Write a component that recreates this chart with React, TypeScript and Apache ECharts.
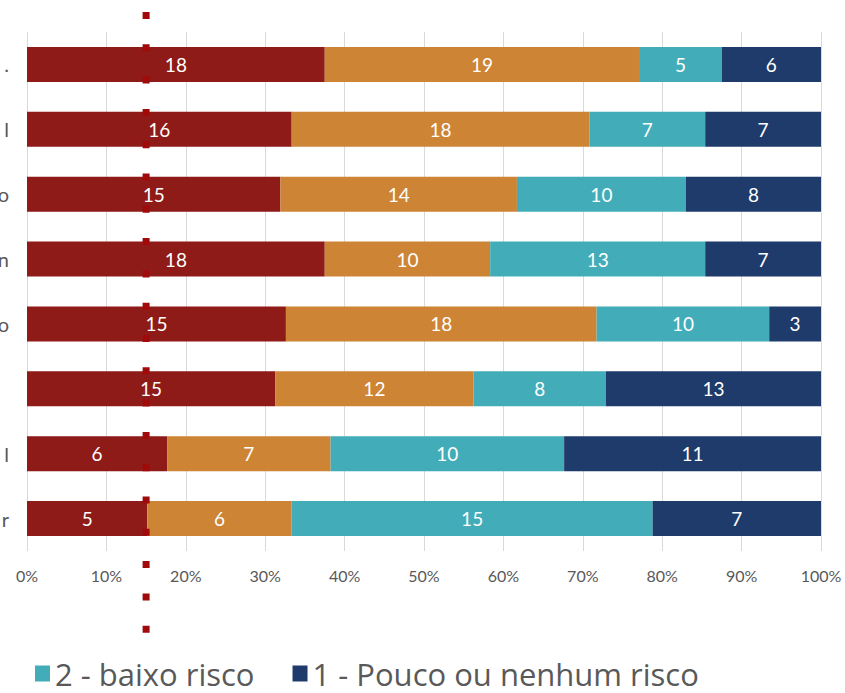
import React, { useEffect, useRef } from "react";
import * as echarts from "echarts";

const categories = [".", "l", "o", "n", "o", "", "l", "r"];
const seriesNames = ["4", "3", "2 - baixo risco", "1 - Pouco ou nenhum risco"];
const risk4 = [18, 16, 15, 18, 15, 15, 6, 5];
const risk3 = [19, 18, 14, 10, 18, 12, 7, 6];
const risk2 = [5, 7, 10, 13, 10, 8, 10, 15];
const risk1 = [6, 7, 8, 7, 3, 13, 11, 7];
const colors = ["#8e1b17", "#cd8434", "#42adb9", "#1e3b6c"];
const referenceValue = 15;
const FONT = "Lato";

export default function App() {
  const ref = useRef<HTMLDivElement>(null);
  useEffect(() => {
    if (!ref.current) return;
    const chart = echarts.init(ref.current, undefined, { renderer: "svg" });
    const raw = [risk4, risk3, risk2, risk1];
    const totals = categories.map((_, i) => raw.reduce((s, a) => s + a[i], 0));
    chart.setOption({
      animation: false,
      textStyle: { fontFamily: FONT },
      legend: {
        data: [seriesNames[2], seriesNames[3]],
        left: 30,
        top: 653,
        itemWidth: 15,
        itemHeight: 16,
        itemGap: 38,
        icon: "rect",
        textStyle: { fontSize: 31, color: "#595959", fontFamily: "Open Sans" },
      },
      grid: { left: 27, right: 24, top: 32, bottom: 142, containLabel: false, outerBoundsMode: "none" },
      xAxis: {
        type: "value",
        min: 0,
        max: 100,
        interval: 10,
        axisLabel: { formatter: "{value}%", fontSize: 16, color: "#595959", margin: 16 },
        splitLine: { show: true, lineStyle: { color: "#d9d9d9" } },
        axisLine: { show: false },
        axisTick: { show: false },
      },
      yAxis: {
        type: "category",
        inverse: true,
        data: categories,
        axisLine: { show: false },
        axisTick: { show: false },
        axisLabel: { fontSize: 20, color: "#595959", margin: 18 },
      },
      series: raw.map((arr, si) => ({
        name: seriesNames[si],
        type: "bar",
        stack: "total",
        barWidth: 35,
        itemStyle: { color: colors[si] },
        label: {
          show: true,
          position: "inside",
          color: "#ffffff",
          fontSize: 19,
          fontFamily: FONT,
          formatter: (p: any) => String(arr[p.dataIndex]),
        },
        data: arr.map((v, i) => (v / totals[i]) * 100),
      })),
    });
    const px = chart.convertToPixel({ gridIndex: 0 }, [referenceValue, 0]) as number[];
    chart.setOption({
      graphic: [
        {
          type: "line",
          z: 100,
          shape: { x1: px[0], y1: 12, x2: px[0], y2: 633 },
          style: { stroke: "#a00a0a", lineWidth: 7, lineDash: [7, 25.3], lineCap: "butt" },
        },
      ],
    });
    return () => chart.dispose();
  }, []);
  return (
    <div
      ref={ref}
      style={{ position: "absolute", left: 0, top: 0, width: 845, height: 693, background: "#fff" }}
    />
  );
}
